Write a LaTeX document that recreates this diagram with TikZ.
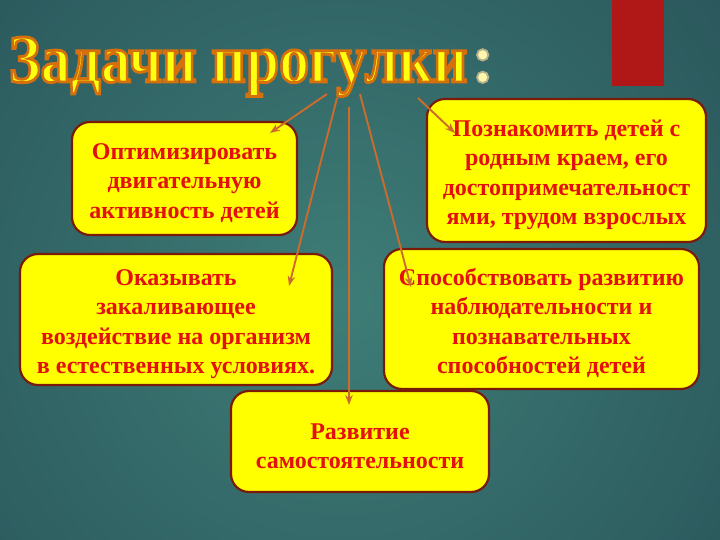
\documentclass[tikz,border=0pt]{standalone}
\usepackage{fontspec}
\setmainfont{Liberation Serif}
\usetikzlibrary{arrows.meta}
\definecolor{bgin}{HTML}{3E7D77}
\definecolor{bgout}{HTML}{1A3845}
\definecolor{flag}{HTML}{B01818}
\definecolor{boxfill}{HTML}{FFFF00}
\definecolor{boxline}{HTML}{7A1A08}
\definecolor{boxtext}{HTML}{E3100E}
\definecolor{arrowc}{HTML}{CC6C2C}
\definecolor{titlefill}{HTML}{FFFF10}
\definecolor{colonfill}{HTML}{FFF6B0}
\newcommand\strokeon[2]{\special{pdf:literal direct 2 Tr #1 w #2 RG}}
\newcommand\strokeoff{\special{pdf:literal direct 0 Tr}}
\newcommand\mytitle{\scalebox{0.88}[1]{\bfseries\fontsize{68}{70}\selectfont
  \strokeon{2.9}{0.84 0.44 0.05}Задачи прогулки\strokeoff}}
\newcommand\mycolon{\bfseries\fontsize{70}{72}\selectfont
  \strokeon{1.8}{0.72 0.70 0.55}:\strokeoff}
\newcommand\topgap{\rule{0pt}{25pt}}
\begin{document}
\begin{tikzpicture}[x=1pt,y=-1pt,
  taskbox/.style={draw=boxline, line width=2.2pt, fill=boxfill, rounded corners=18pt,
    align=center, text=boxtext, font=\bfseries\fontsize{24}{29.5}\selectfont, inner sep=0pt},
  link/.style={draw=arrowc, line width=1.9pt, -{Stealth[length=10pt,width=7.5pt]}},
  titlelayer/.style={anchor=base west, inner sep=0pt, outer sep=0pt},
  ]
\useasboundingbox (0,0) rectangle (720,540);
\begin{scope}
  \clip (0,0) rectangle (720,540);
  \shade[inner color=bgin, outer color=bgout] (340,300) circle (900);
\end{scope}
\fill[flag] (612,0) rectangle (664,86);

% title
\node[titlelayer, text=titlefill] (title) at (9,82) {\mytitle};
\node[titlelayer, text=colonfill] (colon) at ([xshift=4pt]title.base east) {\mycolon};

% task boxes
\node[taskbox, minimum width=225pt, minimum height=113pt] (b1) at (184.5,178.5)
  {\topgap Оптимизировать\\двигательную\\активность детей};
\node[taskbox, minimum width=279pt, minimum height=143pt] (b2) at (566.5,170.5)
  {\topgap Познакомить детей с\\родным краем, его\\достопримечательност\\ями, трудом взрослых};
\node[taskbox, minimum width=312pt, minimum height=131pt] (b3) at (176,319.5)
  {\topgap Оказывать\\закаливающее\\воздействие на организм\\в естественных условиях.};
\node[taskbox, minimum width=315pt, minimum height=140pt] (b4) at (541.5,319)
  {\topgap Способствовать развитию\\наблюдательности и\\познавательных\\способностей детей};
\node[taskbox, minimum width=258pt, minimum height=101pt] (b5) at (360,441.5)
  {\topgap Развитие\\самостоятельности};

% connectors
\coordinate (sA) at (327,94);  \coordinate (eA) at (270,133);
\coordinate (sB) at (337,98);  \coordinate (eB) at (289,286);
\coordinate (sC) at (349,107); \coordinate (eC) at (349,405);
\coordinate (sD) at (360,94);  \coordinate (eD) at (411,287);
\coordinate (sE) at (418,98);  \coordinate (eE) at (455,133);
\draw[link] (sA) -- (eA);
\draw[link] (sB) -- (eB);
\draw[link] (sC) -- (eC);
\draw[link] (sD) -- (eD);
\draw[link] (sE) -- (eE);
\end{tikzpicture}
\end{document}
